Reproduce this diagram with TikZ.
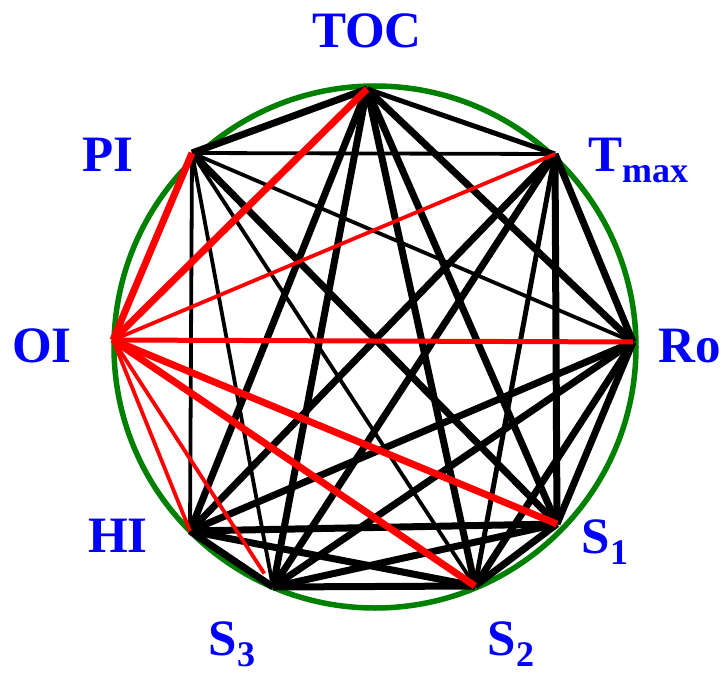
\documentclass[tikz,border=0pt]{standalone}
\usepackage{fontspec}
\setmainfont{Liberation Serif}
\begin{document}
\begin{tikzpicture}[
    x=1pt, y=-1pt,
    lbl/.style={text=blue, inner sep=0pt, anchor=base,
                font=\fontsize{51}{51}\selectfont\bfseries},
    rim/.style={draw={rgb,255:red,0;green,128;blue,0}, line width=5.5pt},
    strong/.style={black, line width=7pt},
    medium/.style={black, line width=5pt},
    weak/.style={black, line width=3.8pt},
    ostrong/.style={red, line width=7pt},
    omedium/.style={red, line width=5pt},
    oweak/.style={red, line width=3.8pt}
]
\newcommand{\lowsub}[1]{\raisebox{-11pt}{\fontsize{36}{36}\selectfont #1}}
\useasboundingbox (0,0) rectangle (724,674);

\coordinate (ctr) at (375,347);
\coordinate (toc) at (367,89);
\coordinate (tmax) at (555,154);
\coordinate (ro) at (633,342);
\coordinate (s1) at (557,524);
\coordinate (s2) at (475,586);
\coordinate (s3) at (273,587);
\coordinate (hi) at (190,531);
\coordinate (oi) at (113,340);
\coordinate (pi) at (192,153);

\node[lbl] (ltoc) at (367,48) {TOC};
\node[lbl] (ltmax) at (638,172) {T\lowsub{max}};
\node[lbl] (lro) at (690,362) {Ro};
\node[lbl] (ls1) at (605,553) {S\lowsub{1}};
\node[lbl] (ls2) at (511,655) {S\lowsub{2}};
\node[lbl] (ls3) at (232,655) {S\lowsub{3}};
\node[lbl] (lhi) at (118,552) {HI};
\node[lbl] (loi) at (42,362) {OI};
\node[lbl] (lpi) at (108,172) {PI};

\draw[rim] (ctr) circle (261);

\draw[strong] (toc) -- (pi);
\draw[medium] (toc) -- (tmax);
\draw[strong] (toc) -- (ro);
\draw[strong] (toc) -- (s1);
\draw[strong] (toc) -- (s2);
\draw[strong] (toc) -- (s3);
\draw[strong] (toc) -- (hi);
\draw[weak] (pi) -- (tmax);
\draw[weak] (pi) -- (ro);
\draw[strong] (pi) -- (s1);
\draw[weak] (pi) -- (s2);
\draw[weak] (pi) -- (s3);
\draw[weak] (pi) -- (hi);
\draw[strong] (tmax) -- (ro);
\draw[strong] (tmax) -- (s1);
\draw[medium] (tmax) -- (s2);
\draw[strong] (tmax) -- (s3);
\draw[strong] (tmax) -- (hi);
\draw[strong] (ro) -- (s1);
\draw[strong] (ro) -- (s2);
\draw[strong] (ro) -- (s3);
\draw[strong] (ro) -- (hi);
\draw[strong] (s1) -- (s2);
\draw[strong] (s1) -- (s3);
\draw[strong] (s1) -- (hi);
\draw[strong] (s2) -- (s3);
\draw[strong] (s2) -- (hi);
\draw[strong] (s3) -- (hi);

\draw[ostrong] (oi) -- (toc);
\draw[ostrong] (oi) -- (pi);
\draw[oweak] (oi) -- (tmax);
\draw[omedium] (oi) -- (ro);
\draw[ostrong] (oi) -- (s1);
\draw[ostrong] (oi) -- (s2);
\draw[oweak] (oi) -- (hi);
\draw[oweak, shorten >=16pt] (oi) -- (s3);
\end{tikzpicture}
\end{document}
